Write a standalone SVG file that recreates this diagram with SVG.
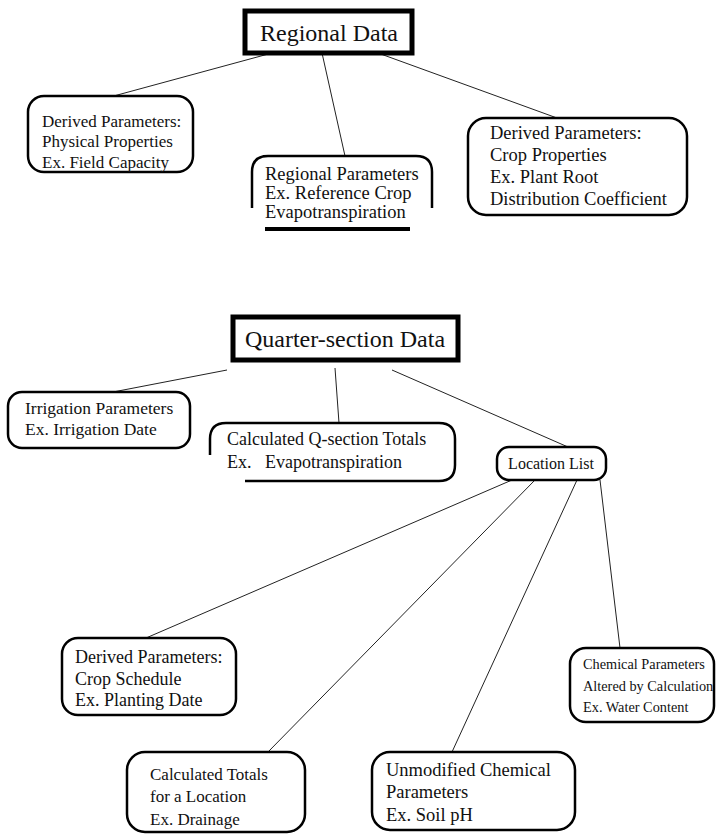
<svg xmlns="http://www.w3.org/2000/svg" width="716" height="835" viewBox="0 0 716 835">
<style>
.bg{fill:#fff}
.box{fill:#fff;stroke:#000;stroke-width:2.5}
.title{fill:#fff;stroke:#000;stroke-width:5}
.ln{stroke:#222;stroke-width:1;fill:none}
text{font-family:"Liberation Serif","Times New Roman",serif;fill:#111;font-size:18px}
.t{font-size:24px}
.tq{font-size:24px}
.s{font-size:14.3px}
.m{font-size:18.5px}
.n{font-size:17px}
.i{font-size:17.5px}
.l{font-size:16px}
</style>
<rect class="bg" x="0" y="0" width="716" height="835"/>
<g id="connectors">
<line class="ln" x1="272" y1="53" x2="110" y2="97"/>
<line class="ln" x1="322" y1="53" x2="345" y2="156"/>
<line class="ln" x1="378" y1="53" x2="557" y2="118"/>
<line class="ln" x1="227" y1="370" x2="113" y2="392"/>
<line class="ln" x1="335" y1="368" x2="339" y2="423"/>
<line class="ln" x1="392" y1="370" x2="568" y2="447"/>
<line class="ln" x1="512" y1="480" x2="146" y2="638"/>
<line class="ln" x1="535" y1="480" x2="268" y2="752"/>
<line class="ln" x1="577" y1="480" x2="452" y2="752"/>
<line class="ln" x1="600" y1="480" x2="620" y2="648"/>
</g>
<g id="regional-data">
<rect class="title" x="245" y="11" width="167" height="42"/>
<text class="t" x="329" y="41" text-anchor="middle">Regional Data</text>
</g>
<g id="derived-physical">
<rect class="box" x="28" y="96" width="165" height="76" rx="16"/>
<text class="n" x="42" y="127">Derived Parameters:</text>
<text class="n" x="42" y="147">Physical Properties</text>
<text class="n" x="42" y="168">Ex. Field Capacity</text>
</g>
<g id="regional-parameters">
<path class="box" d="M252,208 V172 Q252,156 268,156 H416 Q432,156 432,172 V208"/>
<line x1="265" y1="229" x2="410" y2="229" stroke="#000" stroke-width="4"/>
<text class="m" x="265" y="180">Regional Parameters</text>
<text class="m" x="265" y="199">Ex. Reference Crop</text>
<text class="m" x="265" y="218">Evapotranspiration</text>
</g>
<g id="derived-crop-properties">
<rect class="box" x="468" y="118" width="219" height="97" rx="18"/>
<text class="m" x="490" y="139">Derived Parameters:</text>
<text class="m" x="490" y="161">Crop Properties</text>
<text class="m" x="490" y="183">Ex. Plant Root</text>
<text class="m" x="490" y="205">Distribution Coefficient</text>
</g>
<g id="quarter-section-data">
<rect class="title" x="233" y="317" width="225" height="43"/>
<text class="tq" x="345" y="347" text-anchor="middle">Quarter-section Data</text>
</g>
<g id="irrigation">
<rect class="box" x="8" y="392" width="182" height="56" rx="14"/>
<text class="i" x="25" y="414">Irrigation Parameters</text>
<text class="i" x="25" y="435">Ex. Irrigation Date</text>
</g>
<g id="q-section-totals">
<path class="box" d="M210,455 V439 Q210,423 226,423 H439 Q455,423 455,439 V465 Q455,481 439,481 H245"/>
<text x="227" y="445">Calculated Q-section Totals</text>
<text x="227" y="468">Ex.</text>
<text x="265" y="468">Evapotranspiration</text>
</g>
<g id="location-list">
<rect class="box" x="497" y="447" width="109" height="33" rx="12"/>
<text class="l" x="551" y="469" text-anchor="middle">Location List</text>
</g>
<g id="derived-crop-schedule">
<rect class="box" x="62" y="638" width="174" height="77" rx="16"/>
<text x="75" y="663">Derived Parameters:</text>
<text x="75" y="685">Crop Schedule</text>
<text x="75" y="706">Ex. Planting Date</text>
</g>
<g id="chemical-altered">
<rect class="box" x="570" y="648" width="144" height="74" rx="16"/>
<text class="s" x="583" y="669">Chemical Parameters</text>
<text class="s" x="583" y="691">Altered by Calculation</text>
<text class="s" x="583" y="712">Ex. Water Content</text>
</g>
<g id="calculated-totals">
<rect class="box" x="127" y="752" width="178" height="80" rx="18"/>
<text class="n" x="150" y="780">Calculated Totals</text>
<text class="n" x="150" y="802">for a Location</text>
<text class="n" x="150" y="825">Ex. Drainage</text>
</g>
<g id="unmodified-chemical">
<rect class="box" x="372" y="752" width="203" height="78" rx="18"/>
<text class="m" x="386" y="776">Unmodified Chemical</text>
<text class="m" x="386" y="798">Parameters</text>
<text class="m" x="386" y="821">Ex. Soil pH</text>
</g>
</svg>
